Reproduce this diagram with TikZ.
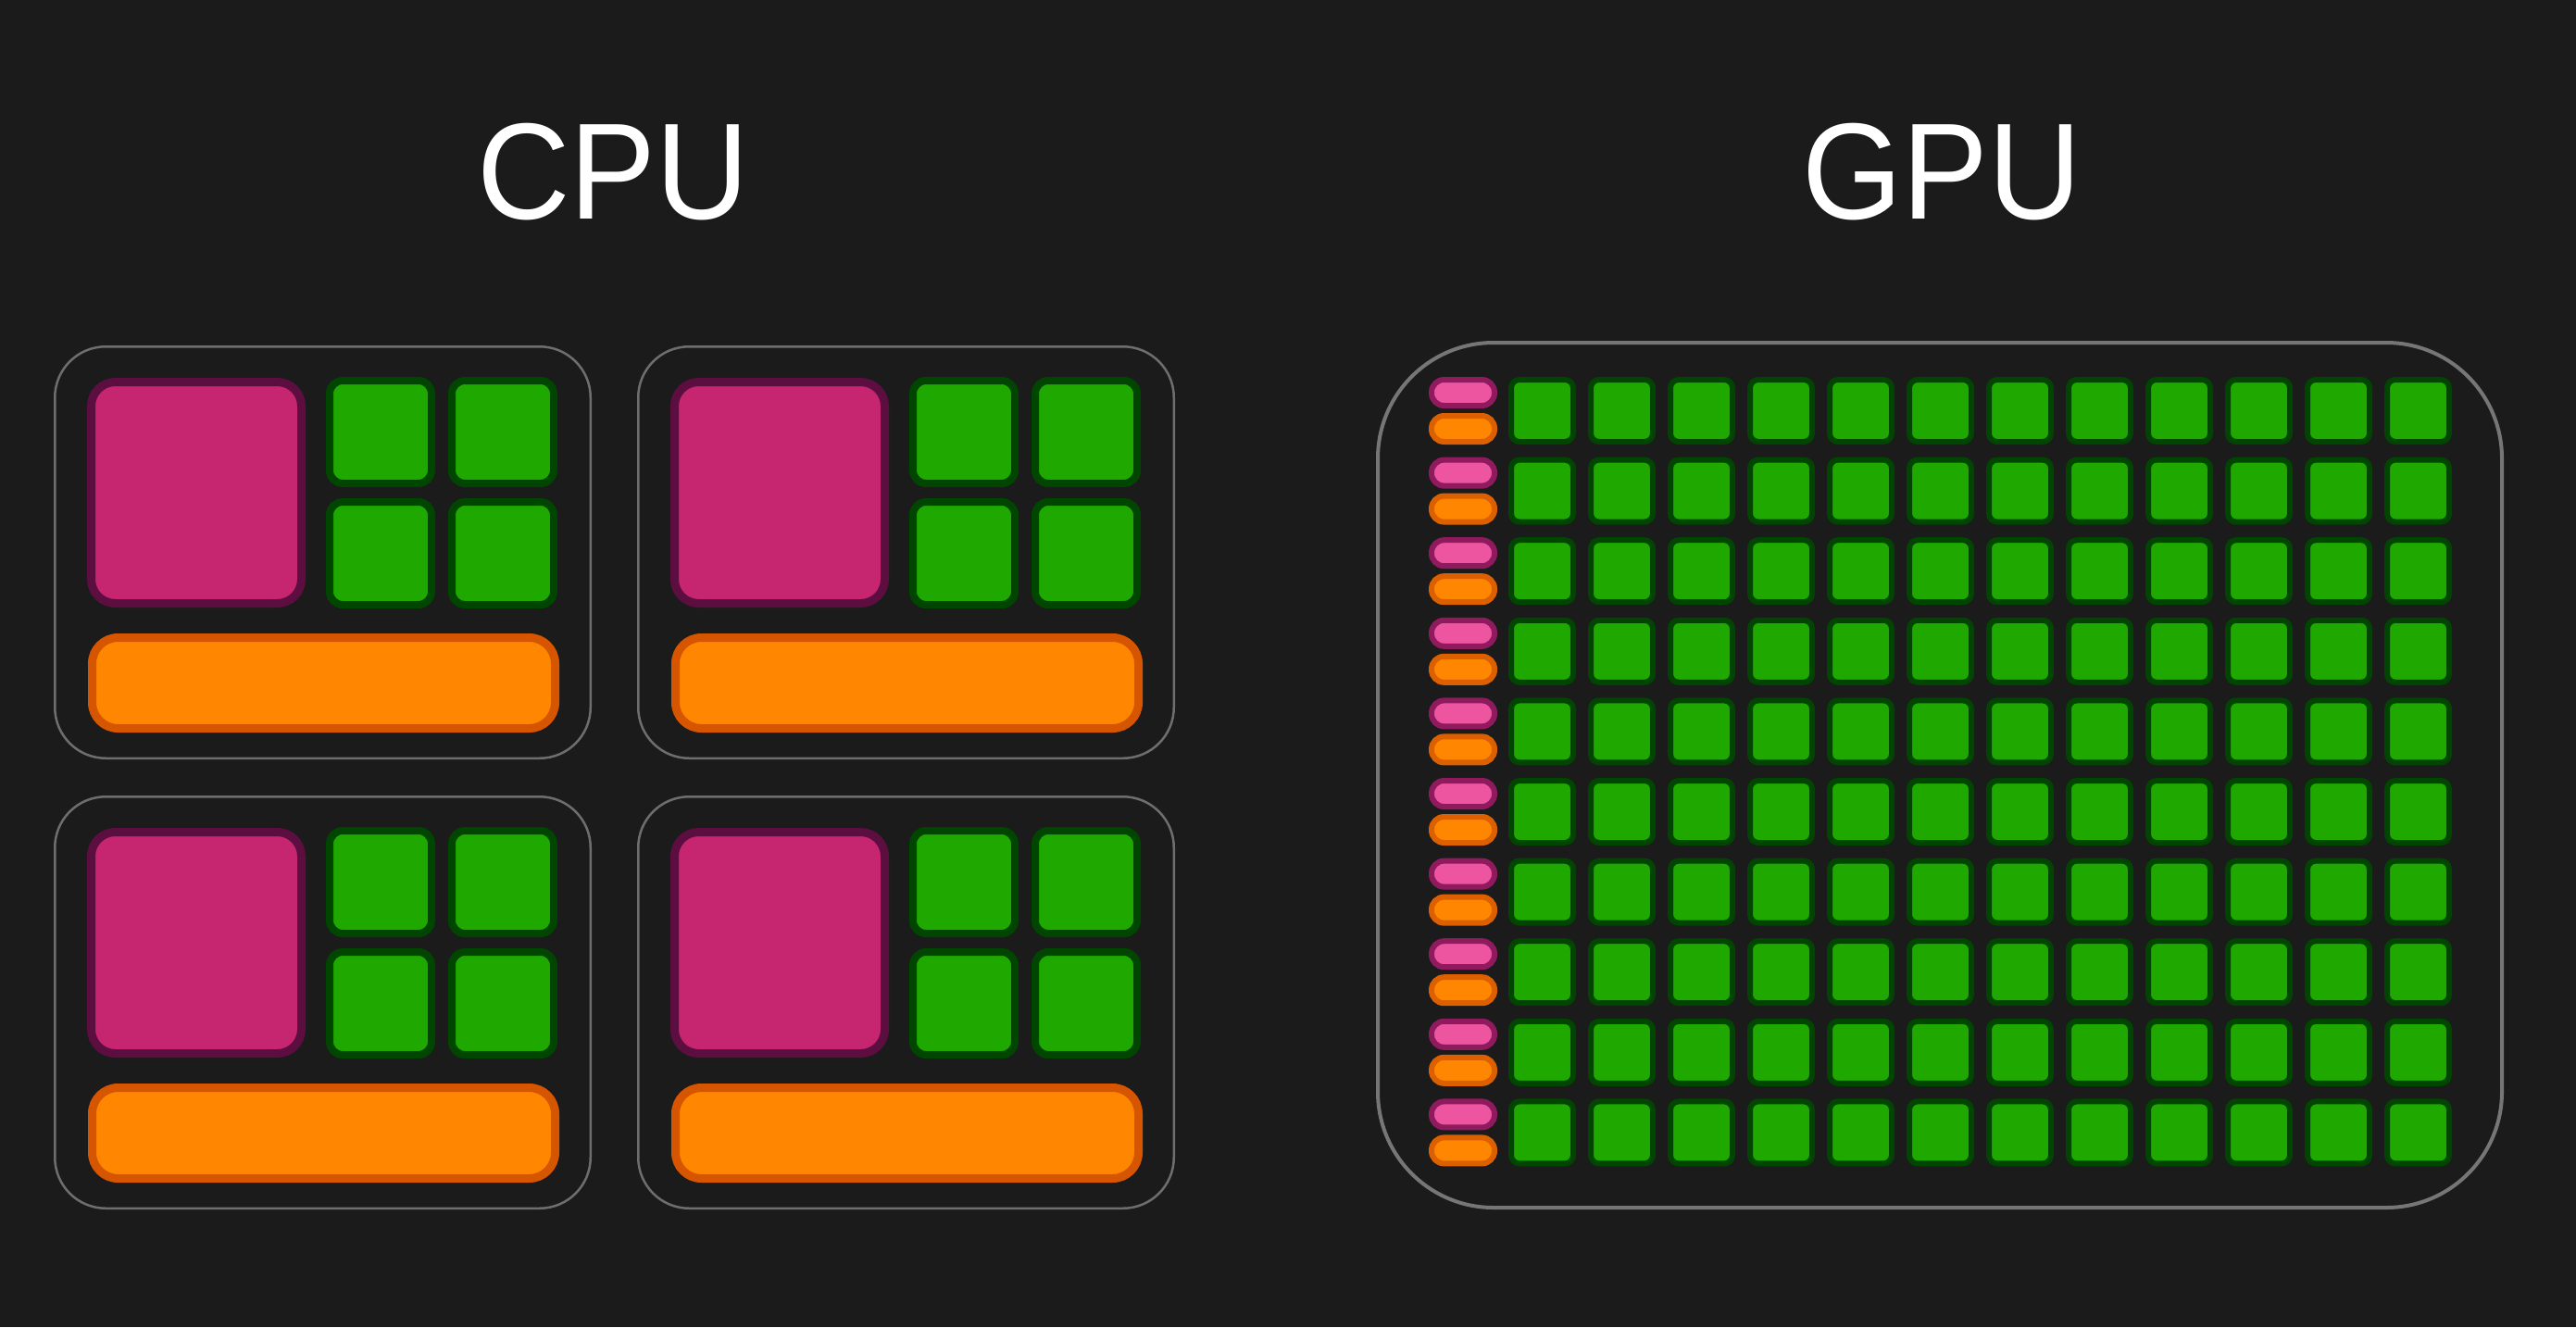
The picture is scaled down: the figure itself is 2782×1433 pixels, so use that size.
\documentclass[tikz,border=0pt]{standalone}
\usepackage{fontspec}
\setmainfont{Liberation Sans}
\definecolor{bg}{RGB}{27,27,27}
\definecolor{frame}{RGB}{110,110,110}
\definecolor{gframe}{RGB}{118,118,118}
\definecolor{magfill}{RGB}{198,38,112}
\definecolor{magline}{RGB}{92,14,64}
\definecolor{grnfill}{RGB}{30,168,0}
\definecolor{grnline}{RGB}{0,70,0}
\definecolor{orgfill}{RGB}{255,134,0}
\definecolor{orgline}{RGB}{214,85,0}
\definecolor{pnkfill}{RGB}{238,85,160}
\definecolor{pnkline}{RGB}{144,26,94}
\definecolor{org2line}{RGB}{221,96,0}
\tikzset{
  corebox/.style={draw=frame,line width=2.5pt,rounded corners=55pt},
  gpubox/.style={draw=gframe,line width=4pt,rounded corners=125pt},
  ctrlblk/.style={fill=magfill,draw=magline,line width=9pt,rounded corners=26pt},
  alublk/.style={fill=grnfill,draw=grnline,line width=8pt,rounded corners=14pt},
  cacheblk/.style={fill=orgfill,draw=orgline,line width=9pt,rounded corners=28pt},
  galu/.style={fill=grnfill,draw=grnline,line width=6pt,rounded corners=9pt},
  gctrl/.style={fill=pnkfill,draw=pnkline,line width=6pt,rounded corners=13.5pt},
  gcache/.style={fill=orgfill,draw=org2line,line width=6pt,rounded corners=13.5pt},
  title/.style={text=white,font=\fontsize{148}{160}\selectfont,anchor=base,xscale=0.94}
}
\newcommand\mycpucore[2]{%
  \begin{scope}[shift={(#1,#2)}]
    \draw[corebox] (1.25,1.25) rectangle (579.75,445.75);
    \draw[ctrlblk] (40.5,39.5) rectangle (267.5,278.5);
    \draw[alublk] (298,38) rectangle (408,149);
    \draw[alublk] (430,38) rectangle (540,149);
    \draw[alublk] (298,169) rectangle (408,280);
    \draw[alublk] (430,169) rectangle (540,280);
    \draw[cacheblk] (41.5,315.5) rectangle (541.5,413.5);
  \end{scope}}
\begin{document}
\begin{tikzpicture}[x=1pt,y=-1pt]
\fill[bg] (0,0) rectangle (2782,1433);
\useasboundingbox (0,0) rectangle (2782,1433);
\node[title] (cpu) at (662,236) {CPU};
\node[title] (gpu) at (2097,236) {GPU};
\mycpucore{58}{373}
\mycpucore{688}{373}
\mycpucore{58}{859}
\mycpucore{688}{859}
\draw[gpubox] (1488,370) rectangle (2702,1304);
\foreach \j in {0,...,9}{
  \pgfmathsetmacro{\yy}{407+86.6*\j}
  \draw[gctrl] (1546,\yy+3) rectangle (1614,\yy+31);
  \draw[gcache] (1546,\yy+42) rectangle (1614,\yy+70);
  \foreach \i in {0,...,11}{
    \pgfmathsetmacro{\xx}{1629+86*\i}
    \draw[galu] (\xx+3,\yy+3) rectangle (\xx+70,\yy+70);
  }
}
\end{tikzpicture}
\end{document}
